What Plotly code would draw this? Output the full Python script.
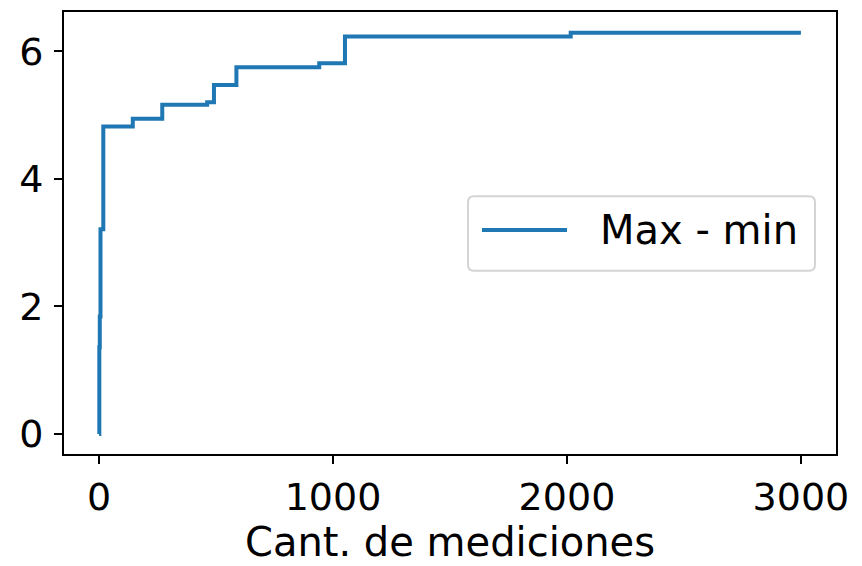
import plotly.graph_objects as go

# Running max-min spread after each measurement (step changes)
mediciones = [0, 1, 3, 6, 18, 144, 270, 462, 491, 587, 941, 1051, 2016, 3000]
max_min = [0.0, 1.36, 1.84, 3.21, 4.82, 4.94, 5.16, 5.20, 5.47, 5.75, 5.81, 6.23, 6.29, 6.29]

x_ticks = [0, 1000, 2000, 3000]
y_ticks = [0, 2, 4, 6]
legend_label = "Max - min"

BLUE = "#1f77b4"
FONT = "DejaVu Sans"

fig = go.Figure()
fig.add_trace(go.Scatter(
    x=mediciones, y=max_min, mode="lines", line_shape="hv",
    line=dict(color=BLUE, width=4), name=legend_label, showlegend=False,
))

W, H = 862, 566
ml, mr, mt, mb = 64, 26, 10, 112
pw, ph = W - ml - mr, H - mt - mb


def px(xp):
    return (xp - ml) / pw


def py(yp):
    return (H - mb - yp) / ph


# legend frame with rounded corners (paper coordinates)
lx0, lx1, ly0, ly1 = px(468), px(815), py(270), py(195)
rx, ry = 6 / pw, 6 / ph
path = (
    f"M{lx0+rx},{ly1} L{lx1-rx},{ly1} Q{lx1},{ly1} {lx1},{ly1-ry} "
    f"L{lx1},{ly0+ry} Q{lx1},{ly0} {lx1-rx},{ly0} "
    f"L{lx0+rx},{ly0} Q{lx0},{ly0} {lx0},{ly0+ry} "
    f"L{lx0},{ly1-ry} Q{lx0},{ly1} {lx0+rx},{ly1} Z"
)
fig.add_shape(type="path", path=path, xref="paper", yref="paper",
              line=dict(color="#d4d4d4", width=2),
              fillcolor="rgba(255,255,255,0.8)", layer="above")
fig.add_shape(type="line", xref="paper", yref="paper",
              x0=px(482), x1=px(567), y0=py(229), y1=py(229),
              line=dict(color=BLUE, width=4), layer="above")
fig.add_annotation(x=px(598), y=py(229), xref="paper", yref="paper",
                   text=legend_label, showarrow=False, xanchor="left",
                   yanchor="middle", font=dict(family=FONT, size=40, color="black"))

axis_common = dict(
    showline=True, linecolor="black", linewidth=2, mirror=True,
    ticks="outside", ticklen=8, tickwidth=2, tickcolor="black",
    showgrid=False, zeroline=False,
    tickfont=dict(family=FONT, size=38, color="black"),
)

fig.update_xaxes(range=[-150, 3150], tickvals=x_ticks,
                 ticktext=[str(v) for v in x_ticks],
                 title=dict(text="Cant. de mediciones", standoff=8,
                            font=dict(family=FONT, size=40, color="black")),
                 ticklabelstandoff=0, **axis_common)
fig.update_yaxes(range=[-0.315, 6.615], tickvals=y_ticks,
                 ticktext=[str(v) for v in y_ticks],
                 ticklabelstandoff=3, **axis_common)

fig.update_layout(
    width=W, height=H,
    margin=dict(l=ml, r=mr, t=mt, b=mb),
    plot_bgcolor="white", paper_bgcolor="white",
    font=dict(family=FONT, color="black"),
)

fig.write_html("out.html")
